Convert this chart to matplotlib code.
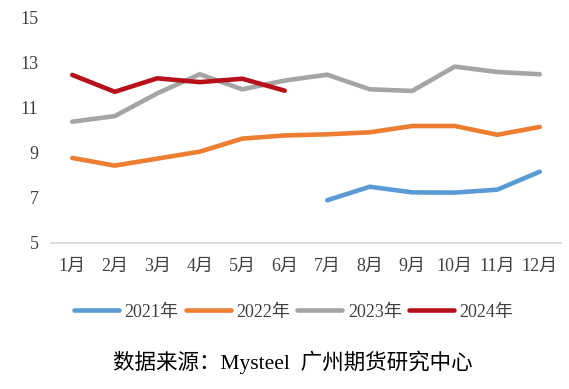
import matplotlib
matplotlib.use("Agg")
import matplotlib.pyplot as plt

plt.rcParams['font.family'] = ['Liberation Serif', 'Noto Sans CJK SC']

months = ["1月", "2月", "3月", "4月", "5月", "6月", "7月", "8月", "9月", "10月", "11月", "12月"]
y2021 = [None, None, None, None, None, None, 6.9, 7.5, 7.25, 7.24, 7.37, 8.17]
y2022 = [8.78, 8.44, 8.75, 9.06, 9.64, 9.78, 9.83, 9.92, 10.2, 10.2, 9.81, 10.16]
y2023 = [10.39, 10.64, 11.65, 12.5, 11.83, 12.22, 12.48, 11.83, 11.76, 12.84, 12.6, 12.5]
y2024 = [12.47, 11.72, 12.32, 12.15, 12.3, 11.77]

series = [("2021年", y2021, "#5B9BD5"),
          ("2022年", y2022, "#ED7D31"),
          ("2023年", y2023, "#A5A5A5"),
          ("2024年", y2024, "#B8101A")]

fig = plt.figure(figsize=(5.69, 3.89), dpi=100)
ax = fig.add_axes([51 / 569, 1 - 243 / 389, 510 / 569, 225 / 389])

x = list(range(len(months)))
for name, vals, color in series:
    xs = [i for i, v in enumerate(vals) if v is not None]
    ys = [v for v in vals if v is not None]
    ax.plot(xs, ys, color=color, lw=3.3, label=name, solid_capstyle='round')

ax.set_xlim(-0.5, 11.5)
ax.set_ylim(5, 15)
ax.set_yticks([5, 7, 9, 11, 13, 15])
ax.set_xticks(x)
ax.set_xticklabels(months)
for s in ["top", "right", "left"]:
    ax.spines[s].set_visible(False)
ax.spines["bottom"].set_color("#D9D9D9")
ax.spines["bottom"].set_linewidth(1.3)
ax.tick_params(axis="both", length=0, labelsize=13, colors="#404040")
ax.tick_params(axis="x", pad=11)
ax.tick_params(axis="y", pad=9)

fig.legend(loc="center", bbox_to_anchor=(0.516, 1 - 312 / 389), ncol=4,
           frameon=False, fontsize=13, handlelength=2.5, handletextpad=0.3,
           columnspacing=0.4, labelcolor="#404040")

fig.text(0.515, 1 - 362 / 389, "数据来源：Mysteel  广州期货研究中心", ha="center", va="center",
         fontsize=15.5, color="black")

fig.savefig("out.png", dpi=100)
